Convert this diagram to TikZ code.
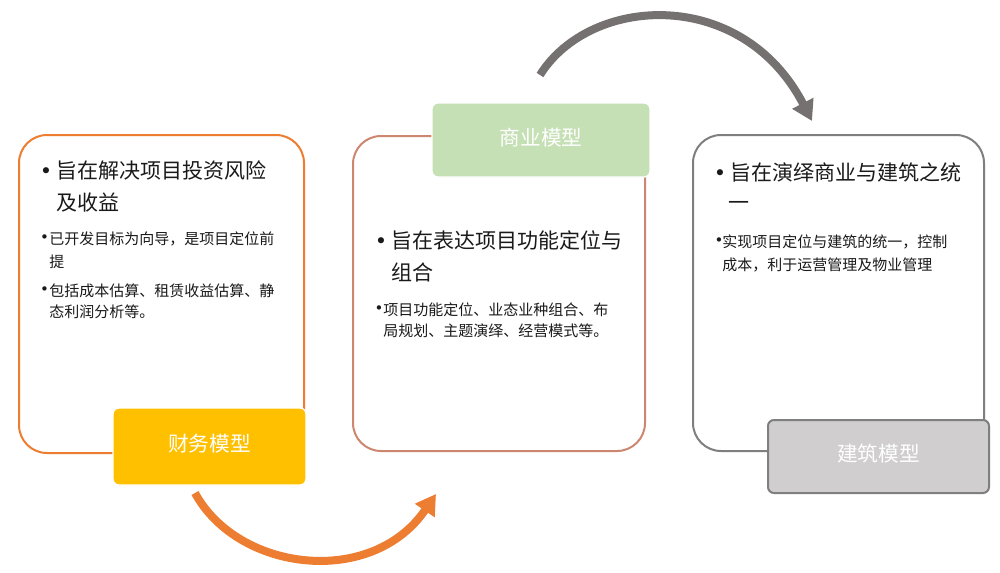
\documentclass[tikz,border=0pt]{standalone}
\usepackage{fontspec}
\setmainfont{Noto Sans CJK SC}
\newfontfamily\bulfont{DejaVu Sans}
\usetikzlibrary{arrows.meta}
\definecolor{orangeB}{HTML}{ED7D31}
\definecolor{salmonB}{HTML}{CD8670}
\definecolor{grayB}{HTML}{7F7F7F}
\definecolor{goldF}{HTML}{FFC000}
\definecolor{greenF}{HTML}{C5E0B4}
\definecolor{grayF}{HTML}{D0CECE}
\definecolor{arrowG}{HTML}{767171}
\definecolor{txt}{HTML}{1A1A1A}
\begin{document}
\begin{tikzpicture}[x=0.75pt,y=-0.75pt,
  outerbox/.style={draw, line width=1.5pt, rounded corners=21pt, fill=white, inner sep=0},
  labelbox/.style={rounded corners=4.5pt, text=white, inner sep=0, draw=white, line width=1pt,
     font=\fontsize{15.5}{18}\selectfont, text height=0.88em, text depth=0.12em},
  big/.style={anchor=west, inner sep=0, font=\fontsize{15.75}{18}\selectfont, text=txt,
     text height=0.88em, text depth=0.12em},
  small/.style={anchor=west, inner sep=0, font=\fontsize{11.25}{14}\selectfont, text=txt,
     text height=0.88em, text depth=0.12em},
  bigbul/.style={anchor=center, inner sep=0, font=\bulfont\fontsize{15.75}{18}\selectfont, text=txt},
  smallbul/.style={anchor=center, inner sep=0, font=\bulfont\fontsize{11.25}{14}\selectfont, text=txt},
  flow/.style={line width=6pt, -{Triangle[length=15pt,width=17pt]}}
]
\useasboundingbox (0,0) rectangle (1000,572);
\fill[white] (0,0) rectangle (1000,572);

% ---------- outer boxes ----------
\node[outerbox, draw=orangeB, minimum width=213.75pt, minimum height=238.5pt] (fbox) at (161.5,294) {};
\node[outerbox, draw=salmonB, minimum width=219pt, minimum height=236.25pt] (bbox) at (499,293.5) {};
\node[outerbox, draw=grayB, minimum width=218.25pt, minimum height=237pt] (abox) at (838.5,293) {};

% ---------- label boxes ----------
\node[labelbox, fill=goldF, minimum width=144.75pt, minimum height=57.75pt] (flab) at (209.5,446.5) {财务模型};
\node[labelbox, fill=greenF, minimum width=163.5pt, minimum height=55.5pt] (blab) at (541,140) {商业模型};
\node[labelbox, fill=grayF, draw=grayB, line width=1.5pt, minimum width=165.75pt, minimum height=54.75pt] (alab) at (878.5,456.5) {建筑模型};

% ---------- left texts ----------
\node[bigbul] (fb1) at (46,173) {•};
\node[big] (ft1) at (56,173) {旨在解决项目投资风险};
\node[big] (ft2) at (56,205) {及收益};
\node[smallbul] (fs1) at (44.5,239) {•};
\node[small] (fl1) at (49,239) {已开发目标为向导，是项目定位前};
\node[small] (fl2) at (49,262) {提};
\node[smallbul] (fs2) at (44.5,291) {•};
\node[small] (fl3) at (49,291) {包括成本估算、租赁收益估算、静};
\node[small] (fl4) at (49,312) {态利润分析等。};

% ---------- middle texts ----------
\node[bigbul] (bb1) at (381,243) {•};
\node[big] (bt1) at (391,243) {旨在表达项目功能定位与};
\node[big] (bt2) at (391,275) {组合};
\node[smallbul] (bs1) at (379,310) {•};
\node[small] (bl1) at (383,310) {项目功能定位、业态业种组合、布};
\node[small] (bl2) at (383,331) {局规划、主题演绎、经营模式等。};

% ---------- right texts ----------
\node[bigbul] (ab1) at (720,175) {•};
\node[big] (at1) at (730,175) {旨在演绎商业与建筑之统};
\node[big] (at2) at (728,205) {一};
\node[smallbul] (as1) at (719,242) {•};
\node[small] (al1) at (722,242) {实现项目定位与建筑的统一，控制};
\node[small] (al2) at (722,265) {成本，利于运营管理及物业管理};

% ---------- arrows ----------
\coordinate (o1) at (195,493);
\coordinate (o2) at (436,494);
\coordinate (g1) at (540,75);
\coordinate (g2) at (812,121);
\draw[flow, draw=orangeB] (o1) .. controls (238,572) and (372,588) .. (o2);
\draw[flow, draw=arrowG] (g1) .. controls (590,-5) and (742,-14) .. (g2);
\end{tikzpicture}
\end{document}
